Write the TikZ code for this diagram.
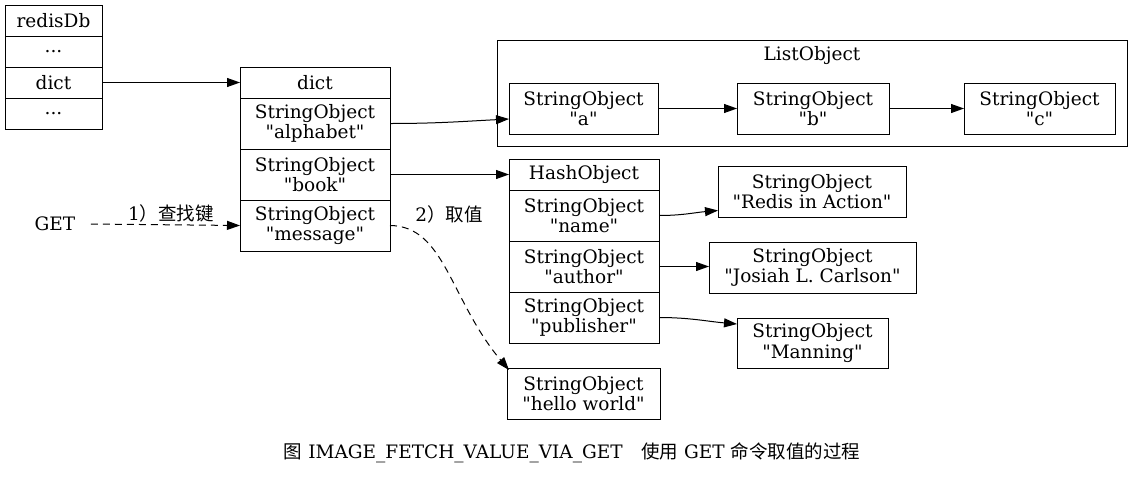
\documentclass[tikz,border=0pt]{standalone}
\usepackage{fontspec}
\setmainfont{DejaVu Serif}[Ligatures=TeXOff]
\newfontfamily\cjk{Noto Sans CJK SC}
\usetikzlibrary{positioning,arrows.meta}

\tikzset{
  cell/.style={draw, outer sep=0pt, inner sep=0pt, align=center, minimum height=51pt},
  headcell/.style={cell, minimum height=31pt},
  dbcell/.style={headcell, minimum width=97pt},
  reccell/.style={cell, minimum width=150pt},
  lookup/.style={->, dash pattern=on 7pt off 5pt},
}

\begin{document}
\begin{tikzpicture}[x=1pt,y=-1pt,line width=1pt,>={Triangle[length=13pt,width=9pt]},
    font=\fontsize{18.5}{20.5}\selectfont]
        \useasboundingbox (0,0) rectangle (1143,477);

        % redisDb
        \node[dbcell] (db) at (53.5,20.5) {redisDb};
        \node[dbcell, below=0pt of db] (db1) {...};
        \node[dbcell, below=0pt of db1] (dbdict) {dict};
        \node[dbcell, below=0pt of dbdict] (db3) {...};

        % dict
        \node[headcell, minimum width=150pt] (dict) at (315,82.5) {dict};
        \node[reccell, below=0pt of dict] (alpha) {StringObject\\ "alphabet"};
        \node[reccell, below=0pt of alpha] (book) {StringObject\\ "book"};
        \node[reccell, below=0pt of book] (msg) {StringObject\\ "message"};

        % ListObject
        \draw (497,40) rectangle (1127,146);
        \node (listname) at (812,56) {ListObject};
        \node[cell, minimum width=149pt] (la) at (583.5,108.5) {StringObject\\ "a"};
        \node[cell, minimum width=152pt] (lb) at (813,108.5) {StringObject\\ "b"};
        \node[cell, minimum width=151pt] (lc) at (1039.5,108.5) {StringObject\\ "c"};

        % HashObject
        \node[headcell, minimum width=150pt] (hash) at (584,174.5) {HashObject};
        \node[reccell, below=0pt of hash] (hname) {StringObject\\ "name"};
        \node[reccell, below=0pt of hname] (hauthor) {StringObject\\ "author"};
        \node[reccell, below=0pt of hauthor] (hpub) {StringObject\\ "publisher"};

        \node[cell, minimum width=188pt] (vname) at (812,191.5) {StringObject\\ "Redis in Action"};
        \node[cell, minimum width=207pt] (vauthor) at (812.5,267.5) {StringObject\\ "Josiah L. Carlson"};
        \node[cell, minimum width=151pt, minimum height=50pt] (vpub) at (812.5,343) {StringObject\\ "Manning"};
        \node[cell, minimum width=153pt] (hello) at (583.5,393.5) {StringObject\\ "hello world"};

        % GET
        \node[inner xsep=15pt] (get) at (55,224) {GET};
        \node (step1) at (171,213) {1{\cjk ）查找键}};
        \node (step2) at (449,214) {2{\cjk ）取值}};

        % Arestas
        \draw[->] (dbdict.east) -- (dict.west);
        \draw[->] (alpha.east) to[out=0,in=183] ([yshift=-10.5pt]la.west);
        \draw[->] (book.east) -- (book.east -| hash.west);
        \draw[->] (la) -- (lb);
        \draw[->] (lb) -- (lc);
        \draw[->] (hname.east) to[out=0,in=185] ([yshift=-19pt]vname.west);
        \draw[->] (hauthor.east) -- (hauthor.east -| vauthor.west);
        \draw[->] (hpub.east) to[out=0,in=175] ([yshift=19pt]vpub.west);
        \draw[lookup] (get.east) -- (msg.west);
        \draw[lookup] (msg.east) .. controls (445,226) and (450,300) .. ([xshift=2pt,yshift=-2pt]hello.north west);

        % Legenda
        \node (caption) at (572,453) {{\cjk 图} IMAGE\_FETCH\_VALUE\_VIA\_GET\quad{\cjk 使用} GET {\cjk 命令取值的过程}};
    \end{tikzpicture}
\end{document}
